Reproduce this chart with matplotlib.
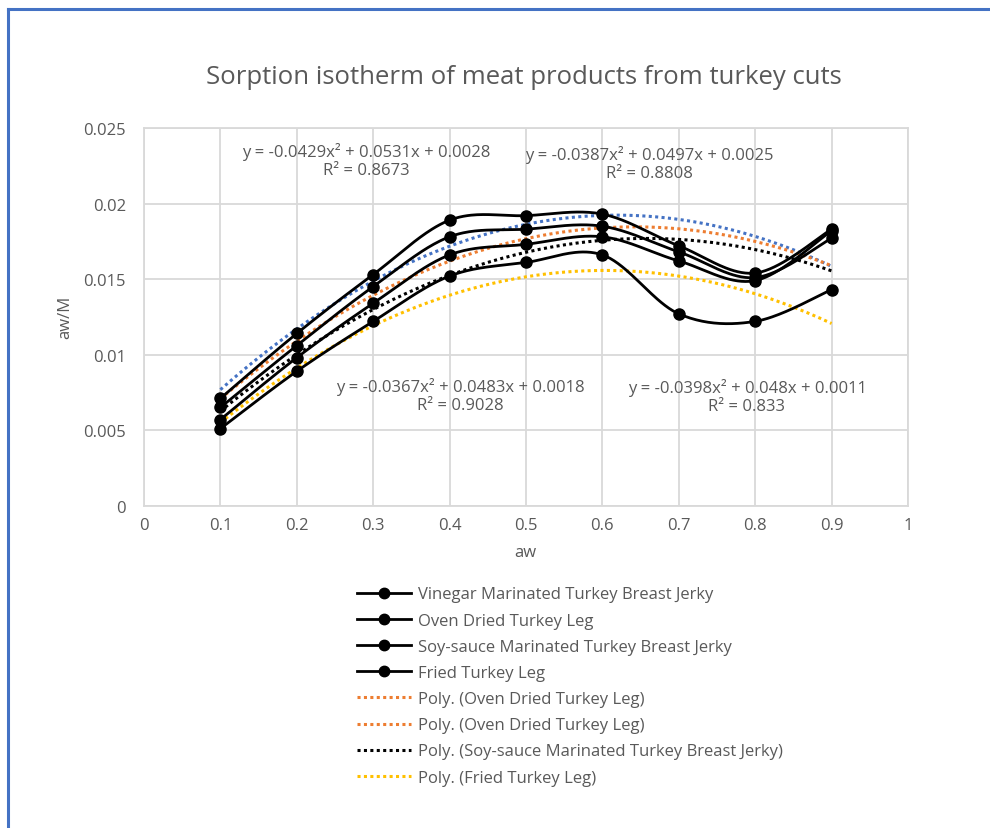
import numpy as np
import matplotlib
matplotlib.use("Agg")
import matplotlib.pyplot as plt
from matplotlib.lines import Line2D

# ---- data -------------------------------------------------------------
aw = [0.1, 0.2, 0.3, 0.4, 0.5, 0.6, 0.7, 0.8, 0.9]

vinegar_jerky = [0.0071, 0.0114, 0.0153, 0.0189, 0.0192, 0.0193, 0.0172, 0.0154, 0.0183]
oven_leg      = [0.0065, 0.0106, 0.0145, 0.0178, 0.0183, 0.0185, 0.0168, 0.0151, 0.0177]
soy_jerky     = [0.0057, 0.0098, 0.0134, 0.0166, 0.0173, 0.0178, 0.0162, 0.0149, 0.0182]
fried_leg     = [0.0051, 0.0089, 0.0122, 0.0152, 0.0161, 0.0166, 0.0127, 0.0122, 0.0143]

series_names = [
    "Vinegar Marinated Turkey Breast Jerky",
    "Oven Dried Turkey Leg",
    "Soy-sauce Marinated Turkey Breast Jerky",
    "Fried Turkey Leg",
]

# quadratic trend coefficients (a, b, c) and R² for each series
trend_coefs = [
    (-0.0429, 0.0531, 0.0028),
    (-0.0387, 0.0497, 0.0025),
    (-0.0367, 0.0483, 0.0018),
    (-0.0398, 0.0480, 0.0011),
]
trend_r2 = ["0.8673", "0.8808", "0.9028", "0.833"]
trend_colors = ["#4472C4", "#ED7D31", "#000000", "#FFC000"]

legend_trend_labels = [
    "Poly. (Oven Dried Turkey Leg)",
    "Poly. (Oven Dried Turkey Leg)",
    "Poly. (Soy-sauce Marinated Turkey Breast Jerky)",
    "Poly. (Fried Turkey Leg)",
]
legend_trend_colors = ["#ED7D31", "#ED7D31", "#000000", "#FFC000"]

x_ticks = [0, 0.1, 0.2, 0.3, 0.4, 0.5, 0.6, 0.7, 0.8, 0.9, 1]
x_tick_labels = ["0", "0.1", "0.2", "0.3", "0.4", "0.5", "0.6", "0.7", "0.8", "0.9", "1"]
y_ticks = [0, 0.005, 0.01, 0.015, 0.02, 0.025]
y_tick_labels = ["0", "0.005", "0.01", "0.015", "0.02", "0.025"]

# ---- helpers ------------------------------------------------------------
def smooth_curve(xs, ys, n=40):
    """Bezier smoothing through the points (Catmull-Rom style control points)."""
    p = np.column_stack([xs, ys]).astype(float)
    out = []
    for i in range(len(p) - 1):
        p0 = p[i - 1] if i > 0 else p[i]
        p1, p2 = p[i], p[i + 1]
        p3 = p[i + 2] if i + 2 < len(p) else p[i + 1]
        c1 = p1 + (p2 - p0) / 6.0
        c2 = p2 - (p3 - p1) / 6.0
        t = np.linspace(0, 1, n)[:, None]
        seg = ((1 - t) ** 3) * p1 + 3 * ((1 - t) ** 2) * t * c1 + 3 * (1 - t) * t ** 2 * c2 + t ** 3 * p2
        out.append(seg if i == 0 else seg[1:])
    out = np.vstack(out)
    return out[:, 0], out[:, 1]


def fmt_eq(a, b, c):
    return "y = {}x² + {}x + {}".format(a, b, c)


# ---- figure -------------------------------------------------------------
plt.rcParams["font.family"] = ["Open Sans", "DejaVu Sans"]
W, H = 990, 829
fig = plt.figure(figsize=(W / 100, H / 100), dpi=100)
fig.patch.set_facecolor("white")

# outer frame lines of the chart area
border = "#4472C4"
fig.add_artist(Line2D([7.5 / W, 7.5 / W], [0, 1 - 10 / H], color=border, lw=2.2,
                      transform=fig.transFigure))
fig.add_artist(Line2D([7.5 / W, 1], [1 - 10 / H, 1 - 10 / H], color=border, lw=2.2,
                      transform=fig.transFigure))

left, right, top, bottom = 144, 908, 129, 506.7
ax = fig.add_axes([left / W, 1 - bottom / H, (right - left) / W, (bottom - top) / H])

grid_c = "#D9D9D9"
text_c = "#595959"
fs = 12

ax.set_xlim(0, 1)
ax.set_ylim(0, 0.025)
ax.set_xticks(x_ticks)
ax.set_xticklabels(x_tick_labels)
ax.set_yticks(y_ticks)
ax.set_yticklabels(y_tick_labels)
ax.grid(True, color=grid_c, lw=1.3)
ax.set_axisbelow(True)
for s in ax.spines.values():
    s.set_color(grid_c)
    s.set_linewidth(1.3)
ax.tick_params(length=0, colors=text_c, labelsize=fs)
ax.tick_params(axis="x", pad=8)
ax.tick_params(axis="y", pad=13)

# measured series, smoothed lines with markers
for ys in [vinegar_jerky, oven_leg, soy_jerky, fried_leg]:
    sx, sy = smooth_curve(aw, ys)
    ax.plot(sx, sy, color="black", lw=2.0, zorder=3, solid_capstyle="round")
    ax.plot(aw, ys, "o", color="black", ms=8, zorder=4)

# polynomial trend lines over the measured aw range
xt = np.linspace(aw[0], aw[-1], 200)
for (a, b, c), col in zip(trend_coefs, trend_colors):
    ax.plot(xt, a * xt ** 2 + b * xt + c, color=col, lw=2.2,
            linestyle=(0, (1, 1.1)), zorder=2)

# trend equations
eq_pos = [(366, 161), (649, 164), (460, 396), (747, 397)]
for (a, b, c), r2, (px, py) in zip(trend_coefs, trend_r2, eq_pos):
    fig.text(px / W, 1 - py / H, fmt_eq(a, b, c) + "\nR² = " + r2,
             ha="center", va="center", color=text_c, fontsize=fs,
             linespacing=1.2)

# titles
fig.text(524 / W, 1 - 78 / H, "Sorption isotherm of meat products from turkey cuts",
         ha="center", va="center", color=text_c, fontsize=18.5)
fig.text(65 / W, 1 - 317 / H, "aw/M", ha="center", va="center", rotation=90,
         color=text_c, fontsize=fs)
fig.text(525 / W, 1 - 553 / H, "aw", ha="center", va="center",
         color=text_c, fontsize=fs)

# legend
handles = [Line2D([], [], color="black", lw=2.0, marker="o", ms=7.5) for _ in series_names]
handles += [Line2D([], [], color=c, lw=2.2, linestyle=(0, (1, 1.1))) for c in legend_trend_colors]
labels = series_names + legend_trend_labels
leg = fig.legend(handles, labels, loc="upper left",
                 bbox_to_anchor=(357 / W, 1 - 587.5 / H), frameon=False,
                 fontsize=fs, handlelength=3.25, handletextpad=0.42,
                 labelspacing=0.61, borderaxespad=0, borderpad=0)
for t in leg.get_texts():
    t.set_color(text_c)

fig.savefig("out.png", dpi=100, facecolor="white")
